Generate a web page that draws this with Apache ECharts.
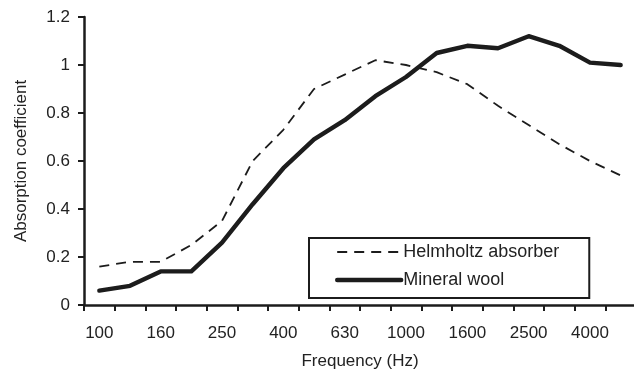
<!DOCTYPE html>
<html>
<head>
<meta charset="utf-8">
<script src="https://cdn.jsdelivr.net/npm/echarts@6/dist/echarts.min.js"></script>
<style>
  html, body { margin: 0; padding: 0; background: #fff; }
  #chart { width: 634px; height: 373px; }
</style>
</head>
<body>
<div id="chart"></div>
<script>
// One-third octave band centre frequencies (Hz)
const frequencies = ['100', '125', '160', '200', '250', '315', '400', '500', '630',
  '800', '1000', '1250', '1600', '2000', '2500', '3150', '4000', '5000'];

// Absorption coefficients per band
const helmholtzAbsorber = [0.16, 0.18, 0.18, 0.25, 0.35, 0.60, 0.73, 0.90, 0.96,
  1.02, 1.00, 0.97, 0.92, 0.83, 0.75, 0.67, 0.60, 0.54];
const mineralWool = [0.06, 0.08, 0.14, 0.14, 0.26, 0.42, 0.57, 0.69, 0.77,
  0.87, 0.95, 1.05, 1.08, 1.07, 1.12, 1.08, 1.01, 1.00];

// Y axis tick values
const yTicks = [0, 0.2, 0.4, 0.6, 0.8, 1, 1.2];

const ink = '#1c1c1c';
const textInk = '#222';
const font = 'Liberation Sans, Arial, Helvetica, sans-serif';

const dashStyle = { color: ink, width: 1.8, type: [10, 7] };
const solidStyle = { color: ink, width: 4.4, cap: 'round', join: 'round' };

const chart = echarts.init(document.getElementById('chart'), null, { renderer: 'canvas' });

chart.setOption({
  animation: false,
  backgroundColor: '#fff',
  grid: {
    left: 84, top: 17, width: 552, height: 288,
    containLabel: false,
    outerBoundsMode: 'none'
  },
  xAxis: {
    type: 'category',
    data: frequencies,
    boundaryGap: true,
    name: 'Frequency (Hz)',
    nameLocation: 'middle',
    nameGap: 48,
    nameTextStyle: { color: textInk, fontSize: 17, fontFamily: font },
    axisLine: { lineStyle: { color: ink, width: 2.5 } },
    axisTick: { show: true, interval: 0, length: 6, lineStyle: { color: ink, width: 2 } },
    axisLabel: { interval: 1, margin: 20, color: textInk, fontSize: 17, fontFamily: font },
    splitLine: { show: false }
  },
  yAxis: {
    type: 'value',
    min: yTicks[0],
    max: yTicks[yTicks.length - 1],
    interval: yTicks[1] - yTicks[0],
    name: 'Absorption coefficient',
    nameLocation: 'middle',
    nameGap: 54,
    nameTextStyle: { color: textInk, fontSize: 17, fontFamily: font },
    axisLine: { show: true, lineStyle: { color: ink, width: 2.5 } },
    axisTick: { show: true, length: 6, lineStyle: { color: ink, width: 2 } },
    axisLabel: { margin: 14, color: textInk, fontSize: 17, fontFamily: font },
    splitLine: { show: false }
  },
  legend: {
    orient: 'vertical',
    left: 309,
    top: 238,
    padding: [5, 30, 9, 26],
    itemGap: 10,
    itemWidth: 64,
    itemHeight: 14,
    borderColor: ink,
    borderWidth: 2,
    borderRadius: 0,
    itemStyle: { opacity: 0 },
    textStyle: { color: textInk, fontSize: 18, fontFamily: font, lineHeight: 17, padding: [0, 0, 0, -3] },
    data: [
      { name: 'Helmholtz absorber', lineStyle: dashStyle, itemStyle: { opacity: 0 } },
      { name: 'Mineral wool', lineStyle: solidStyle, itemStyle: { opacity: 0 } }
    ]
  },
  series: [
    {
      name: 'Helmholtz absorber',
      type: 'line',
      data: helmholtzAbsorber,
      symbol: 'none',
      lineStyle: dashStyle,
      itemStyle: { color: ink }
    },
    {
      name: 'Mineral wool',
      type: 'line',
      data: mineralWool,
      symbol: 'none',
      lineStyle: solidStyle,
      itemStyle: { color: ink }
    }
  ]
});
</script>
</body>
</html>
